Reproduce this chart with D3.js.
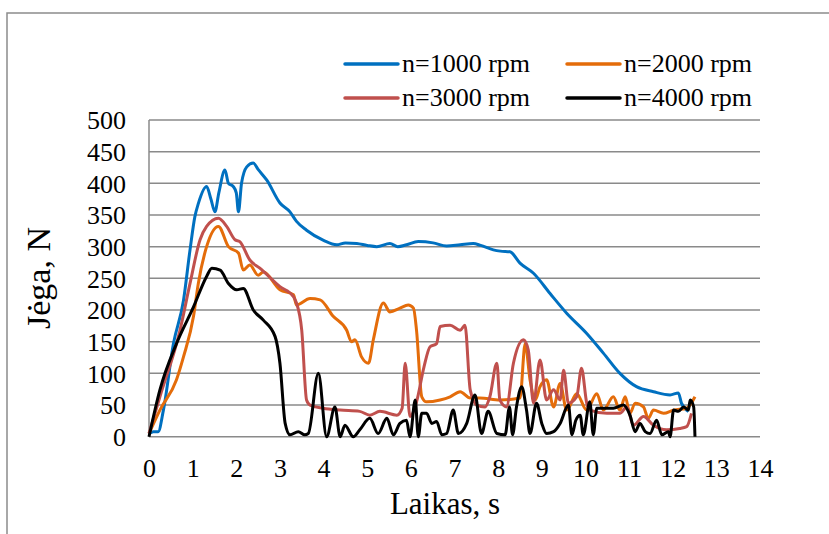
<!DOCTYPE html>
<html>
<head>
<meta charset="utf-8">
<script src="https://cdn.jsdelivr.net/npm/d3@7"></script>
<style>
  body { margin: 0; background: #fff; }
  svg { display: block; font-family: "Liberation Serif", "DejaVu Serif", serif; }
</style>
</head>
<body>
<script>

// Laikas (s) ir jėga (N) kiekvienam sūkių dažniui
const t1000 = [0, 0.1, 0.21, 0.33, 0.56, 0.79, 0.94, 1.05, 1.13, 1.32, 1.42, 1.51, 1.6, 1.74, 1.82, 1.93, 2.0, 2.05, 2.12, 2.24, 2.39, 2.5, 2.7, 3.0, 3.23, 3.38, 3.61, 4.0, 4.3, 4.5, 4.76, 5.0, 5.22, 5.52, 5.7, 5.9, 6.17, 6.51, 6.82, 7.13, 7.43, 7.6, 7.89, 8.05, 8.27, 8.5, 8.81, 9.19, 9.57, 10.03, 10.41, 10.79, 11.17, 11.56, 11.94, 12.13, 12.2, 12.36];
const f1000 = [5, 8, 8, 42, 147, 215, 295, 347, 368, 395, 375, 355, 385, 421, 400, 395, 385, 355, 400, 426, 432, 422, 405, 369, 355, 340, 326, 310, 303, 306, 305, 302, 300, 305, 300, 303, 308, 306, 301, 303, 305, 302, 295, 293, 292, 274, 258, 226, 195, 163, 132, 100, 79, 71, 66, 69, 53, 40];

const t2000 = [0, 0.25, 0.63, 0.79, 1.02, 1.13, 1.32, 1.59, 1.82, 2.05, 2.16, 2.31, 2.5, 2.62, 3.0, 3.31, 3.38, 3.69, 3.92, 4.22, 4.53, 4.64, 4.72, 4.87, 5.03, 5.14, 5.37, 5.52, 5.75, 5.94, 6.06, 6.13, 6.25, 6.36, 6.67, 6.9, 7.13, 7.36, 7.58, 8.04, 8.5, 8.62, 8.73, 8.85, 8.96, 9.11, 9.27, 9.42, 9.57, 9.8, 10.03, 10.26, 10.41, 10.64, 10.79, 10.91, 11.02, 11.14, 11.33, 11.44, 11.56, 11.79, 12.02, 12.32, 12.51];
const f2000 = [5, 42, 90, 126, 190, 242, 300, 332, 300, 290, 263, 271, 255, 260, 232, 224, 208, 218, 216, 190, 168, 150, 153, 126, 116, 153, 211, 197, 203, 208, 203, 168, 63, 55, 58, 63, 71, 61, 61, 58, 61, 147, 90, 58, 79, 90, 47, 84, 42, 68, 42, 68, 42, 63, 42, 63, 37, 53, 47, 29, 42, 37, 42, 45, 63];

const t3000 = [0, 0.25, 0.71, 0.94, 1.17, 1.32, 1.59, 1.78, 1.97, 2.08, 2.31, 2.54, 3.0, 3.31, 3.38, 3.5, 3.61, 3.69, 3.99, 4.38, 4.83, 5.06, 5.29, 5.68, 5.8, 5.87, 5.98, 6.13, 6.3, 6.44, 6.59, 6.67, 6.9, 7.13, 7.24, 7.36, 7.51, 7.7, 7.81, 7.97, 8.04, 8.19, 8.35, 8.58, 8.69, 8.81, 8.96, 9.11, 9.27, 9.42, 9.5, 9.61, 9.8, 9.91, 10.03, 10.1, 10.49, 10.79, 10.95, 11.1, 11.33, 11.56, 11.86, 12.16, 12.32, 12.43];
const f3000 = [5, 63, 168, 242, 311, 332, 345, 332, 311, 308, 279, 266, 237, 221, 211, 168, 58, 50, 45, 42, 40, 34, 40, 34, 45, 116, 32, 55, 110, 142, 147, 174, 176, 168, 176, 74, 50, 47, 63, 116, 58, 47, 116, 153, 137, 53, 121, 58, 74, 58, 105, 53, 63, 108, 53, 42, 37, 37, 47, 18, 32, 18, 11, 13, 16, 37];

const t4000 = [0, 0.25, 0.63, 1.02, 1.32, 1.44, 1.63, 1.82, 2.01, 2.16, 2.39, 2.62, 2.89, 3.0, 3.12, 3.23, 3.42, 3.57, 3.65, 3.88, 4.07, 4.26, 4.38, 4.49, 4.68, 4.83, 5.06, 5.25, 5.45, 5.6, 5.75, 5.9, 5.98, 6.1, 6.17, 6.25, 6.36, 6.48, 6.59, 6.71, 6.82, 6.97, 7.09, 7.28, 7.47, 7.62, 7.77, 7.97, 8.16, 8.26, 8.33, 8.42, 8.54, 8.65, 8.73, 8.88, 9.0, 9.11, 9.27, 9.42, 9.61, 9.69, 9.78, 9.88, 9.95, 10.1, 10.18, 10.26, 10.64, 10.87, 11.02, 11.14, 11.25, 11.37, 11.48, 11.63, 11.75, 11.9, 11.94, 12.02, 12.13, 12.25, 12.36, 12.4, 12.48, 12.51];
const f4000 = [0, 74, 147, 205, 253, 266, 263, 242, 232, 234, 200, 184, 158, 116, 21, 3, 8, 3, 5, 100, 0, 47, 0, 18, 0, 11, 29, 5, 29, 3, 21, 26, 0, 58, 0, 37, 37, 21, 24, 3, 5, 42, 5, 21, 66, 5, 40, 5, 3, 47, 3, 47, 79, 42, 5, 53, 21, 5, 8, 21, 50, 3, 26, 34, 3, 55, 3, 45, 45, 50, 34, 8, 21, 8, 5, 26, 3, 8, 0, 42, 40, 47, 42, 58, 47, 0];

const seriesNames = ["n=1000 rpm", "n=2000 rpm", "n=3000 rpm", "n=4000 rpm"];
const seriesColors = ["#0070C0", "#E46C0A", "#C0504D", "#000000"];
const xTicks = d3.range(0, 15, 1);
const yTicks = d3.range(0, 501, 50);

const series = [
    d3.zip(t1000, f1000),
    d3.zip(t2000, f2000),
    d3.zip(t3000, f3000),
    d3.zip(t4000, f4000)
];

const width = 829, height = 534;

const svg = d3.select("body").append("svg")
    .attr("width", width)
    .attr("height", height);

// rėmelis aplink visą diagramą
svg.append("rect")
    .attr("x", 7).attr("y", 13)
    .attr("width", width + 10).attr("height", height + 10)
    .attr("fill", "none")
    .attr("stroke", "#8c8c8c")
    .attr("stroke-width", 1.5);

const x = d3.scaleLinear().domain([0, 14]).range([149, 760]);
const y = d3.scaleLinear().domain([0, 500]).range([436.7, 120]);

// tinklelio linijos
svg.append("g")
    .selectAll("line")
    .data(yTicks)
    .enter()
    .append("line")
        .attr("x1", x(0)).attr("x2", x(14))
        .attr("y1", d => y(d)).attr("y2", d => y(d))
        .attr("stroke", "#8a8a8a")
        .attr("stroke-width", 1.5);

svg.append("line")
    .attr("x1", x(0)).attr("x2", x(0))
    .attr("y1", y(0)).attr("y2", y(500))
    .attr("stroke", "#8a8a8a")
    .attr("stroke-width", 1.5);

// ašių žymės
const yAxis = svg.append("g")
    .attr("transform", `translate(${x(0)},0)`)
    .call(d3.axisLeft(y).tickValues(yTicks).tickSize(0).tickPadding(23));
yAxis.select(".domain").remove();
yAxis.selectAll("text")
    .style("font-size", "26px")
    .style("font-family", "Liberation Serif")
    .attr("dy", "0.34em")
    .attr("fill", "#000");

const xAxis = svg.append("g")
    .attr("transform", `translate(0,${y(0)})`)
    .call(d3.axisBottom(x).tickValues(xTicks).tickSize(0));
xAxis.select(".domain").remove();
xAxis.selectAll("text")
    .style("font-size", "26px")
    .style("font-family", "Liberation Serif")
    .attr("y", 40)
    .attr("dy", null)
    .attr("fill", "#000");

// ašių pavadinimai
svg.append("text")
    .attr("x", 445).attr("y", 514)
    .attr("text-anchor", "middle")
    .style("font-size", "31px")
    .text("Laikas, s");

svg.append("text")
    .attr("transform", "translate(50,278) rotate(-90)")
    .attr("text-anchor", "middle")
    .style("font-size", "34px")
    .text("Jėga, N");

// kreivės
const line = d3.line()
    .x(d => x(d[0]))
    .y(d => y(d[1]))
    .curve(d3.curveMonotoneX);

svg.append("g")
    .selectAll("path")
    .data(series)
    .enter()
    .append("path")
        .attr("d", line)
        .attr("fill", "none")
        .attr("stroke", (d, i) => seriesColors[i])
        .attr("stroke-width", 3)
        .attr("stroke-linejoin", "round");

// legenda
const legendPos = [[345, 64], [567, 64], [345, 98], [567, 98]];
const legend = svg.append("g")
    .selectAll("g")
    .data(seriesNames)
    .enter()
    .append("g")
        .attr("transform", (d, i) => `translate(${legendPos[i][0]},${legendPos[i][1]})`);

legend.append("line")
    .attr("x1", 0).attr("x2", 53)
    .attr("stroke", (d, i) => seriesColors[i])
    .attr("stroke-width", 3.5)
    .attr("stroke-linecap", "round");

legend.append("text")
    .attr("x", 57).attr("y", 8)
    .style("font-size", "26px")
    .text(d => d);

</script>
</body>
</html>
